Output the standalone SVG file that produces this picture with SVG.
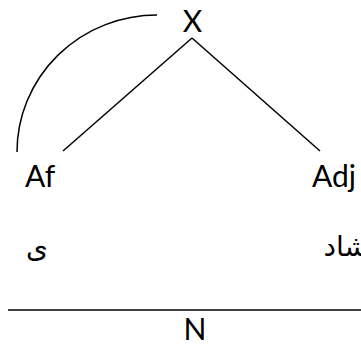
<svg xmlns="http://www.w3.org/2000/svg" width="361" height="345" viewBox="0 0 361 345">
<style>
.t{font-family:Lato,"Open Sans","Liberation Sans",sans-serif;font-size:30px;fill:#000}
.ar{font-family:"DejaVu Sans","Noto Sans",sans-serif;font-size:28px;fill:#000}
.c{stroke:#000;stroke-width:1.5;fill:none}
</style>
<rect width="361" height="345" fill="#fff"/>
<g id="connectors">
<path class="c" d="M192,38 L63,151"/>
<path class="c" d="M192,38 L320,151"/>
<path class="c" d="M157,15 A140,137 0 0 0 17,152"/>
<path class="c" d="M8,310 L361,310"/>
</g>
<g id="X"><text class="t" x="192.5" y="32" text-anchor="middle">X</text></g>
<g id="Af"><text class="t" x="25" y="187">Af</text></g>
<g id="Adj"><text class="t" x="312" y="187">Adj</text></g>
<g id="ye"><text class="ar" x="26" y="257">ی</text></g>
<g id="shad"><text class="ar" x="368" y="256" text-anchor="start" direction="rtl">شاد</text></g>
<g id="N"><text class="t" x="195" y="340" text-anchor="middle">N</text></g>
</svg>
